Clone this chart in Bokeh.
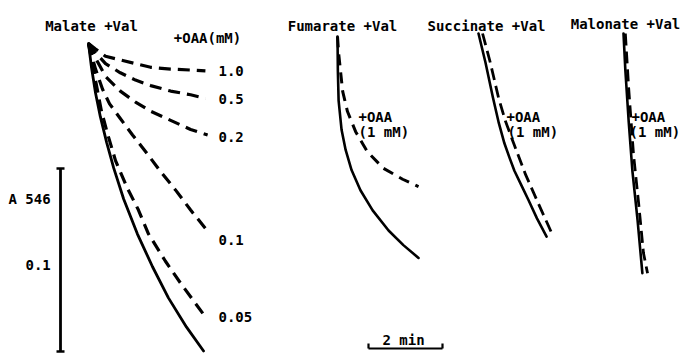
from bokeh.plotting import figure
from bokeh.models import Range1d
from bokeh.embed import file_html
from bokeh.resources import INLINE
from bokeh.core.properties import value

# ---------------- data (time in min, absorbance decrease in A546 units) ----------------
malate_t = [0, 0.08, 0.19, 0.32, 0.49, 0.68, 0.95, 1.32, 1.73, 2.16, 2.65, 3.11]
malate_dA = [0, 0.013, 0.027, 0.040, 0.054, 0.068, 0.085, 0.104, 0.122, 0.139, 0.155, 0.168]

oaa_labels = ["1.0", "0.5", "0.2", "0.1", "0.05"]
oaa_1_0_t = [0, 0.19, 0.46, 0.86, 1.27, 1.68, 2.22, 2.76, 3.16]
oaa_1_0_dA = [0, 0.003, 0.007, 0.009, 0.011, 0.013, 0.014, 0.0145, 0.015]
oaa_0_5_t = [0, 0.19, 0.46, 0.86, 1.27, 1.68, 2.22, 2.76, 3.16]
oaa_0_5_dA = [0, 0.005, 0.011, 0.016, 0.020, 0.023, 0.026, 0.028, 0.030]
oaa_0_2_t = [0, 0.19, 0.46, 0.86, 1.27, 1.68, 2.22, 2.76, 3.22]
oaa_0_2_dA = [0, 0.008, 0.018, 0.026, 0.032, 0.037, 0.042, 0.047, 0.050]
oaa_0_1_t = [0, 0.19, 0.38, 0.57, 0.86, 1.19, 1.54, 1.95, 2.35, 2.76, 3.16]
oaa_0_1_dA = [0, 0.014, 0.025, 0.033, 0.041, 0.050, 0.059, 0.070, 0.080, 0.091, 0.101]
oaa_0_05_t = [0, 0.16, 0.35, 0.51, 0.73, 1.05, 1.35, 1.62, 2.08, 2.49, 2.89, 3.11]
oaa_0_05_dA = [0, 0.017, 0.037, 0.049, 0.064, 0.079, 0.091, 0.104, 0.119, 0.131, 0.142, 0.148]

fum_t = [0, 0.01, 0.03, 0.11, 0.22, 0.38, 0.62, 0.95, 1.38, 1.78, 2.19]
fum_dA = [0, 0.019, 0.035, 0.051, 0.062, 0.073, 0.084, 0.095, 0.106, 0.114, 0.121]
fum_oaa_t = [0, 0.03, 0.14, 0.27, 0.49, 0.81, 1.24, 1.76, 2.19]
fum_oaa_dA = [0, 0.009, 0.030, 0.041, 0.052, 0.063, 0.072, 0.078, 0.082]

suc_t = [0, 0.19, 0.39, 0.55, 0.70, 0.84, 0.97, 1.16, 1.35, 1.58, 1.84]
suc_dA = [0, 0.016, 0.035, 0.049, 0.060, 0.068, 0.075, 0.083, 0.091, 0.101, 0.111]
suc_oaa_t = [0.11, 0.32, 0.54, 0.73, 0.95, 1.27, 1.62, 2.0]
suc_oaa_dA = [0, 0.016, 0.035, 0.048, 0.060, 0.077, 0.093, 0.110]

mal_t = [0, 0.05, 0.14, 0.24, 0.38, 0.51]
mal_dA = [0, 0.020, 0.048, 0.075, 0.102, 0.131]
mal_oaa_t = [0.05, 0.14, 0.27, 0.41, 0.54, 0.65]
mal_oaa_dA = [0, 0.030, 0.066, 0.093, 0.120, 0.131]

panel_titles = ["Malate +Val", "Fumarate +Val", "Succinate +Val", "Malonate +Val"]
scale_A = 0.1      # absorbance scale bar
scale_min = 2      # time scale bar

# ---------------- layout ----------------
PXM = 37.0     # reference pixels per minute
PXA = 1830.0   # reference pixels per A unit
OX, OY = 88, 43  # reference pixel of malate origin


def X(px):
    return (px - OX) / PXM


def Y(py):
    return -(py - OY) / PXA


panel_off = {
    "mal": (0.0, 0.0),
    "fum": (X(337), Y(36)),
    "suc": (X(478), Y(33)),
    "mln": (X(623), Y(33)),
}

W, H = 681, 354
p = figure(width=W, height=H, output_backend="svg", toolbar_location=None,
           x_range=Range1d(X(0), X(W)), y_range=Range1d(Y(H), Y(0)),
           min_border=0, background_fill_color="white", border_fill_color="white")
p.axis.visible = False
p.grid.visible = False
p.outline_line_color = None


def trace(key, t, dA, dash=None, lw=2.6):
    ox, oy = panel_off[key]
    xs = [ox + v for v in t]
    ys = [oy - v for v in dA]
    if dash:
        p.line(xs, ys, line_color="black", line_width=lw, line_dash=dash,
               line_cap="butt", line_join="round")
    else:
        p.line(xs, ys, line_color="black", line_width=lw, line_cap="round", line_join="round")


# malate panel
trace("mal", malate_t, malate_dA, lw=2.8)
for t, d in [(oaa_1_0_t, oaa_1_0_dA), (oaa_0_5_t, oaa_0_5_dA), (oaa_0_2_t, oaa_0_2_dA),
             (oaa_0_1_t, oaa_0_1_dA), (oaa_0_05_t, oaa_0_05_dA)]:
    trace("mal", t, d, dash="12 7", lw=3.2)

trace("fum", fum_t, fum_dA, lw=2.6)
trace("fum", fum_oaa_t, fum_oaa_dA, dash="11 7", lw=3)
trace("suc", suc_t, suc_dA, lw=2.6)
trace("suc", suc_oaa_t, suc_oaa_dA, dash="12 6", lw=2.8)
trace("mln", mal_t, mal_dA, lw=2.6)
trace("mln", mal_oaa_t, mal_oaa_dA, dash="12 6", lw=2.8)

# absorbance scale bar
bar_x = X(60)
bar_top = Y(168)
p.segment([bar_x], [bar_top], [bar_x], [bar_top - scale_A], line_color="black", line_width=2.8)
p.segment([X(56), X(56)], [bar_top, bar_top - scale_A], [X(64), X(64)], [bar_top, bar_top - scale_A],
          line_color="black", line_width=2.6)

# time scale bar
tb_x0 = X(368)
tb_y = Y(348)
p.segment([tb_x0], [tb_y], [tb_x0 + scale_min], [tb_y], line_color="black", line_width=2.2)
p.segment([tb_x0, tb_x0 + scale_min], [tb_y, tb_y], [tb_x0, tb_x0 + scale_min], [Y(343), Y(343)],
          line_color="black", line_width=2.2)

FONT = value("DejaVu Sans Mono")
titles = {"x": [X(91), X(342), X(486), X(625), X(207), X(403)],
          "y": [Y(25), Y(25), Y(25), Y(23), Y(37), Y(339)],
          "text": panel_titles + ["+OAA(mM)", "2 min"]}
p.text(x="x", y="y", text="text", source=titles, text_font=FONT, text_font_size="14px",
       text_font_style="bold", text_baseline="middle", text_align="center", text_color="black")

labels = {
    "x": [X(218), X(218), X(218), X(218), X(218),
          X(8), X(25),
          X(358), X(358), X(506), X(507), X(631), X(629)],
    "y": [Y(70), Y(98), Y(136), Y(239), Y(316),
          Y(198), Y(264),
          Y(116), Y(131), Y(116), Y(131), Y(116), Y(131)],
    "text": oaa_labels + ["A 546", "0.1",
                          "+OAA", "(1 mM)", "+OAA", "(1 mM)", "+OAA", "(1 mM)"],
}
p.text(x="x", y="y", text="text", source=labels, text_font=FONT, text_font_size="14px",
       text_font_style="bold", text_baseline="middle", text_align="left", text_color="black")

open("out.html", "w").write(file_html(p, INLINE))
